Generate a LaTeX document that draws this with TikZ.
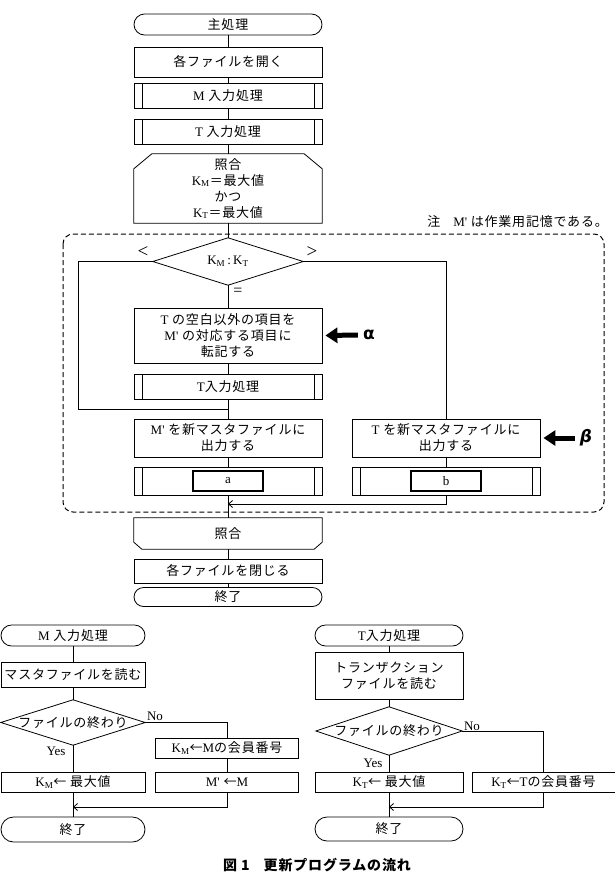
\documentclass[tikz,border=0pt]{standalone}
\usepackage{fontspec}
\setmainfont{Noto Sans CJK JP}[LetterSpace=6]
\newfontfamily\lat{Liberation Serif}
\newfontfamily\grk{DejaVu Sans}
\usetikzlibrary{arrows.meta}
\newcommand{\KM}{{\lat K\textsubscript{M}}}
\newcommand{\KT}{{\lat K\textsubscript{T}}}
\newcommand{\Mp}{{\lat M'}}
\tikzset{
  every node/.style={font=\fontsize{13}{16}\selectfont, inner sep=0pt, align=center},
  ln/.style={line width=0.8pt},
  box/.style={draw, line width=0.8pt, minimum width=188pt},
  term/.style={box},
  sub/.style={box, path picture={
      \draw[line width=0.8pt] ([xshift=8pt]path picture bounding box.north west) -- ([xshift=8pt]path picture bounding box.south west)
        ([xshift=-8pt]path picture bounding box.north east) -- ([xshift=-8pt]path picture bounding box.south east);}},
  diabox/.style={inner sep=0pt},
  thickbox/.style={draw, line width=2pt, minimum width=70pt, minimum height=20pt},
  arr/.style={line width=0.8pt, -{Straight Barb[length=4pt,width=7pt]}},
  bigarrow/.style={line width=5pt, -{Triangle[length=12pt,width=15pt]}},
  lbl/.style={font=\lat\fontsize{13}{16}\selectfont},
  biglbl/.style={font=\lat\fontsize{19}{19}\selectfont},
}
\begin{document}
\begin{tikzpicture}[x=1pt,y=-1pt]
\useasboundingbox (0,0) rectangle (615,876);
% ---------- main flow ----------
\node[term, rounded corners=10.5pt, minimum height=21pt] (start) at (228,24.5) {主処理};
\node[box, minimum height=30pt] (open) at (228,62) {各ファイルを開く};
\node[sub, minimum height=25pt] (inM) at (228,95.5) {{\lat M} 入力処理};
\node[sub, minimum height=25pt] (inT) at (228,131.5) {{\lat T} 入力処理};
\node[minimum width=188pt, minimum height=69pt] (loop1) at (228,188.5) {照合\\\KM＝最大値\\かつ\\\KT＝最大値};
\draw[ln] ([xshift=18pt]loop1.north west) -- ([xshift=-18pt]loop1.north east) -- ([yshift=-15pt]loop1.north east) -- (loop1.south east) -- (loop1.south west) -- ([yshift=-15pt]loop1.north west) -- cycle;

\draw[dashed, dash pattern=on 5pt off 3pt, line width=1pt, rounded corners=10pt] (63,234) rectangle (604,512);
\node[anchor=east] (note) at (608,222) {注\quad\Mp\ は作業用記憶である。};

\node[diabox, minimum width=150pt, minimum height=47pt] (cmp) at (228,261.5) {\KM\,{\lat :}\,\KT};
\draw[ln] (cmp.north) -- (cmp.east) -- (cmp.south) -- (cmp.west) -- cycle;
\node[biglbl] (lt) at (143,252) {<};
\node[biglbl] (gt) at (312,252) {>};
\node[font=\lat\fontsize{16}{16}\selectfont] (eq) at (238,292) {=};
\node[box, minimum height=55pt] (upd) at (228,335.5) {{\lat T} の空白以外の項目を\\\Mp\ の対応する項目に\\転記する};
\node[sub, minimum height=25pt] (inT2) at (228,386.5) {{\lat T}入力処理};
\node[box, minimum height=38pt] (outM) at (228,438) {\Mp\ を新マスタファイルに\\出力する};
\node[sub, minimum height=28pt] (subA) at (228,481) {};
\node[thickbox] (boxA) at (228,481) {\lat a};
\node[box, minimum height=38pt] (outT) at (446,438) {{\lat T} を新マスタファイルに\\出力する};
\node[sub, minimum height=28pt] (subB) at (446,481) {};
\node[thickbox] (boxB) at (446,481) {\lat b};

\node[font=\grk\bfseries\fontsize{17}{17}\selectfont] (alpha) at (369,335) {α};
\node[font=\grk\bfseries\itshape\fontsize{17}{17}\selectfont] (beta) at (586,438) {β};
\draw[bigarrow] ([xshift=-5pt]alpha.west) -- ([xshift=3pt]upd.east);
\draw[bigarrow] ([xshift=-5pt]beta.west) -- ([xshift=3pt]outT.east);

\node[minimum width=188pt, minimum height=31pt] (loop2) at (228,533.5) {照合};
\draw[ln] (loop2.north west) -- (loop2.north east) -- ([yshift=7pt]loop2.south east) -- ([xshift=-8pt]loop2.south east) -- ([xshift=8pt]loop2.south west) -- ([yshift=7pt]loop2.south west) -- cycle;
\node[box, minimum height=24pt] (close) at (228,571) {各ファイルを閉じる};
\node[term, rounded corners=9.5pt, minimum height=19pt] (fin) at (228,597) {終了};

\coordinate (lb) at (78,409);
\coordinate (lj) at (228,409);
\coordinate (mj) at (228,504);
\draw[ln] (start) -- (open);
\draw[ln] (open) -- (inM);
\draw[ln] (inM) -- (inT);
\draw[ln] (inT) -- (loop1);
\draw[ln] (loop1) -- (cmp);
\draw[ln] (cmp) -- (upd);
\draw[ln] (upd) -- (inT2);
\draw[ln] (inT2) -- (outM);
\draw[ln] (outM) -- (subA);
\draw[ln] (subA) -- (loop2);
\draw[ln] (cmp.west) -| (lb) -- (lj);
\draw[ln] (cmp.east) -| (outT.north);
\draw[ln] (outT) -- (subB);
\draw[arr] (subB.south) |- (mj);
\draw[ln] (loop2) -- (close);
\draw[ln] (close) -- (fin);

% ---------- M input ----------
\node[term, rounded corners=10.5pt, minimum width=144pt, minimum height=21pt] (mstart) at (73,635.5) {{\lat M} 入力処理};
\node[box, minimum width=144pt, minimum height=25pt] (mread) at (73,674.5) {マスタファイルを読む};
\node[diabox, minimum width=144pt, minimum height=45pt] (mdia) at (73,722.5) {ファイルの終わり};
\draw[ln] (mdia.north) -- (mdia.east) -- (mdia.south) -- (mdia.west) -- cycle;
\node[box, minimum width=144pt, minimum height=20pt] (mmax) at (73,782) {\KM← 最大値};
\node[box, minimum width=143pt, minimum height=20pt] (mkey) at (227,748) {\KM←{\lat M}の会員番号};
\node[box, minimum width=143pt, minimum height=20pt] (mcopy) at (227,782) {\Mp\ ←{\lat M}};
\node[term, rounded corners=12.5pt, minimum width=144pt, minimum height=25pt] (mend) at (73,829.5) {終了};
\node[lbl] (mno) at (155,716) {No};
\node[lbl] (myes) at (56,751) {Yes};
\coordinate (mjoin) at (73,807);
\draw[ln] (mstart) -- (mread);
\draw[ln] (mread) -- (mdia);
\draw[ln] (mdia) -- (mmax);
\draw[ln] (mdia.east) -| (mkey.north);
\draw[ln] (mkey) -- (mcopy);
\draw[arr] (mcopy.south) |- (mjoin);
\draw[ln] (mmax) -- (mend);

% ---------- T input ----------
\node[term, rounded corners=10.5pt, minimum width=148pt, minimum height=21pt] (tstart) at (389,635.5) {{\lat T}入力処理};
\node[box, minimum width=148pt, minimum height=47pt] (tread) at (389,675.5) {トランザクション\\ファイルを読む};
\node[diabox, minimum width=146pt, minimum height=48pt] (tdia) at (389,731) {ファイルの終わり};
\draw[ln] (tdia.north) -- (tdia.east) -- (tdia.south) -- (tdia.west) -- cycle;
\node[box, minimum width=148pt, minimum height=20pt] (tmax) at (389,782) {\KT← 最大値};
\node[box, minimum width=143pt, minimum height=20pt] (tkey) at (543.5,782) {\KT←{\lat T}の会員番号};
\node[term, rounded corners=12pt, minimum width=148pt, minimum height=24pt] (tend) at (389,829) {終了};
\node[lbl] (tno) at (472,726) {No};
\node[lbl] (tyes) at (373,763) {Yes};
\coordinate (tjoin) at (389,807);
\draw[ln] (tstart) -- (tread);
\draw[ln] (tread) -- (tdia);
\draw[ln] (tdia) -- (tmax);
\draw[ln] (tdia.east) -| (tkey.north);
\draw[arr] (tkey.south) |- (tjoin);
\draw[ln] (tmax) -- (tend);

\node[font=\bfseries\fontsize{14}{16}\selectfont] (cap) at (317,865) {図 1\quad 更新プログラムの流れ};
\end{tikzpicture}
\end{document}
